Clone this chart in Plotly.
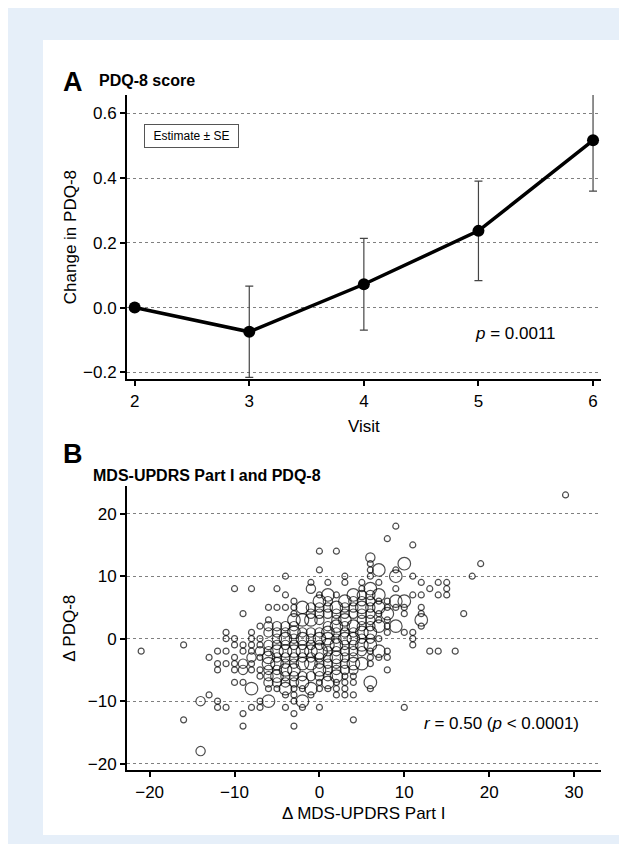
import plotly.graph_objects as go

# ---------------- Panel A data ----------------
visits = [2, 3, 4, 5, 6]
pdq_estimate = [0.0, -0.075, 0.072, 0.237, 0.517]
pdq_se = [0.0, 0.141, 0.142, 0.154, 0.157]
visit_ticks = [2, 3, 4, 5, 6]
a_yticks = [-0.2, 0.0, 0.2, 0.4, 0.6]

# ---------------- Panel B data ----------------
# change in MDS-UPDRS Part I (x columns), change in PDQ-8 per column, number of patients per point
updrs_change = [-21, -16, -14, -13, -12, -11, -10, -9, -8, -7, -6, -5, -4, -3, -2, -1,
                0, 1, 2, 3, 4, 5, 6, 7, 8, 9, 10, 11, 12, 13, 14, 15, 16, 17, 18, 19, 29]
pdq_change = [
    [-2],
    [-1, -13],
    [-10, -18],
    [-3, -9],
    [-2, -4, -5, -10, -11],
    [1, 0, -2, -4, -11],
    [8, 0, -1, -3, -4, -5, -7],
    [4, -1, -2, -4, -5, -7, -12, -14],
    [8, 1, 0, -1, -2, -3, -4, -5, -8, -11],
    [2, 0, -1, -2, -3, -5, -6, -10, -11],
    [5, 3, 2, 1, -1, -2, -3, -4, -5, -6, -7, -8, -10],
    [8, 5, 2, 1, 0, -1, -2, -3, -4, -5, -6, -7, -8],
    [10, 7, 5, 2, 1, 0, -1, -2, -3, -4, -5, -6, -7, -8, -9, -11],
    [6, 5, 4, 3, 2, 1, 0, -1, -2, -3, -4, -5, -6, -7, -8, -9, -10, -12, -14],
    [5, 3, 1, 0, -1, -2, -3, -4, -6, -7, -8, -10, -11],
    [9, 8, 5, 4, 3, 1, 0, -1, -2, -3, -4, -6, -8, -9],
    [14, 11, 7, 6, 5, 4, 3, 1, 0, -1, -2, -3, -4, -5, -6, -7, -8, -11],
    [9, 7, 6, 5, 4, 2, 1, 0, -1, -2, -3, -4, -5, -6, -7, -8],
    [14, 7, 5, 4, 3, 2, 1, 0, -1, -2, -3, -4, -5, -6, -7, -8, -9],
    [10, 9, 6, 5, 4, 3, 2, 1, 0, -1, -2, -3, -4, -5, -6, -7, -8, -9],
    [7, 6, 5, 4, 2, 1, 0, -1, -2, -3, -4, -5, -6, -7, -9, -13],
    [9, 8, 7, 6, 5, 4, 3, 2, 1, 0, -1, -2, -4],
    [13, 12, 11, 10, 8, 7, 6, 5, 4, 3, 2, 1, 0, -1, -2, -3, -4, -7, -8],
    [11, 9, 7, 6, 5, 4, 3, 2, 0, -2, -3],
    [16, 6, 5, 4, 3, 2, 1, -2, -3, -5],
    [18, 11, 10, 8, 6, 5, 2],
    [12, 6, 5, 4, 1, -11],
    [15, 10, 7, 1, 0, -1],
    [9, 7, 5, 4, 3, 2],
    [8, -2],
    [9, 7, -2],
    [9, 8, 7],
    [-2],
    [4],
    [10],
    [12],
    [23],
]
n_patients = [
    [1],
    [1, 1],
    [2, 2],
    [1, 1],
    [1, 1, 1, 1, 1],
    [1, 1, 1, 1, 1],
    [1, 1, 1, 1, 1, 1, 1],
    [1, 1, 1, 2, 2, 1, 1, 1],
    [1, 1, 1, 1, 1, 2, 1, 1, 3, 1],
    [1, 1, 1, 2, 1, 1, 1, 1, 1],
    [1, 1, 2, 2, 2, 2, 3, 3, 2, 2, 2, 1, 3],
    [1, 1, 2, 2, 2, 2, 3, 2, 3, 2, 3, 2, 1],
    [1, 1, 1, 2, 2, 3, 2, 3, 2, 2, 3, 2, 2, 3, 1, 1],
    [1, 1, 1, 3, 2, 3, 2, 2, 3, 2, 2, 3, 2, 2, 1, 1, 1, 1, 1],
    [3, 3, 2, 3, 2, 3, 2, 3, 2, 3, 1, 3, 1],
    [1, 2, 2, 2, 3, 2, 2, 2, 3, 2, 3, 2, 3, 1],
    [1, 1, 1, 3, 2, 2, 2, 2, 3, 2, 4, 2, 2, 3, 2, 1, 1, 1],
    [1, 3, 2, 2, 2, 2, 3, 3, 3, 2, 2, 2, 2, 2, 3, 1],
    [1, 1, 3, 2, 2, 3, 2, 2, 3, 2, 3, 2, 2, 3, 1, 1, 1],
    [1, 1, 3, 2, 2, 3, 2, 2, 3, 2, 2, 2, 2, 2, 1, 1, 1, 1],
    [3, 2, 2, 2, 3, 2, 3, 2, 2, 2, 3, 2, 1, 1, 1, 1],
    [1, 1, 2, 2, 3, 2, 2, 2, 3, 2, 3, 2, 3],
    [2, 1, 1, 1, 3, 2, 2, 2, 2, 2, 2, 3, 2, 3, 1, 1, 1, 3, 1],
    [3, 1, 3, 1, 3, 1, 1, 3, 1, 3, 1],
    [1, 1, 1, 3, 1, 1, 1, 1, 1, 1],
    [1, 1, 3, 1, 3, 1, 3],
    [3, 3, 1, 1, 1, 1],
    [1, 1, 1, 1, 1, 1],
    [1, 1, 1, 1, 3, 1],
    [1, 1],
    [1, 1, 1],
    [1, 1, 1],
    [1],
    [1],
    [1],
    [1],
    [1],
]
b_xticks = [-20, -10, 0, 10, 20, 30]
b_yticks = [-20, -10, 0, 10, 20]

# flatten
bx, by, bn = [], [], []
for xv, ys, ns in zip(updrs_change, pdq_change, n_patients):
    for yv, nv in zip(ys, ns):
        bx.append(xv)
        by.append(yv)
        bn.append(nv)
bsize = [2.7 + 3.3 * n for n in bn]

W, H = 627, 844
FONT = "Liberation Sans, Arial, Helvetica, sans-serif"


def px(x):
    return x / W


def py(y):
    return 1 - y / H


fig = go.Figure()

fig.add_trace(go.Scatter(
    x=visits, y=pdq_estimate, mode="lines+markers",
    line=dict(color="black", width=3.5),
    marker=dict(color="black", size=12),
    error_y=dict(type="data", array=pdq_se, visible=True, color="#444444",
                 thickness=1.2, width=4),
    xaxis="x", yaxis="y", showlegend=False,
))

fig.add_trace(go.Scatter(
    x=bx, y=by, mode="markers",
    marker=dict(symbol="circle-open", color="black", size=bsize,
                line=dict(width=1.2, color="black")),
    xaxis="x2", yaxis="y2", showlegend=False,
))

axis_common = dict(
    showline=True, linecolor="black", linewidth=2,
    ticks="outside", ticklen=5, tickwidth=2, tickcolor="black",
    zeroline=False, tickfont=dict(family=FONT, size=17, color="black"),
)
grid = dict(showgrid=True, gridcolor="#808080", gridwidth=1, griddash="dot")

fig.update_layout(
    width=W, height=H,
    margin=dict(l=0, r=0, t=0, b=0),
    paper_bgcolor="#e6eff9",
    plot_bgcolor="white",
    font=dict(family=FONT, color="black"),
    xaxis=dict(domain=[px(119), px(592.6)], anchor="y", range=[1.933, 6.066],
               tickvals=visit_ticks, showgrid=False, **axis_common),
    yaxis=dict(domain=[py(372.7), py(87.3)], anchor="x", range=[-0.222, 0.657],
               tickvals=a_yticks, tickformat=".1f", **grid, **axis_common),
    xaxis2=dict(domain=[px(119), px(592.6)], anchor="y2", range=[-22.67, 33.13],
                tickvals=b_xticks, showgrid=False, **axis_common),
    yaxis2=dict(domain=[py(765), py(479.3)], anchor="x2", range=[-21.07, 24.5],
                tickvals=b_yticks, **grid, **axis_common),
    shapes=[dict(type="rect", xref="paper", yref="paper",
                 x0=px(35), x1=px(611), y0=py(830), y1=py(32),
                 fillcolor="white", line=dict(width=0), layer="below")],
)

ann = []


def add_text(text, x, y, size, xanchor="center", yanchor="middle", angle=0, **kw):
    ann.append(dict(text=text, x=px(x), y=py(y), xref="paper", yref="paper",
                    showarrow=False, xanchor=xanchor, yanchor=yanchor,
                    textangle=angle, font=dict(family=FONT, size=size, color="black"), **kw))


add_text("<b>A</b>", 53, 74, 27, xanchor="left")
add_text("<b>PDQ-8 score</b>", 89, 73, 16, xanchor="left")
add_text("Estimate ± SE", 183.5, 128.5, 12, bordercolor="#555555", borderwidth=1,
         width=91, height=20, bgcolor="white")
add_text("<i>p</i> = 0.0011", 507, 326.7, 17)
add_text("Change in PDQ-8", 62, 230, 17, angle=-90)
add_text("Visit", 355.8, 420, 17)

add_text("<b>B</b>", 53, 448, 27, xanchor="left")
add_text("<b>MDS-UPDRS Part I and PDQ-8</b>", 83, 469, 16, xanchor="left")
add_text("Δ PDQ-8", 62, 622, 17, angle=-90)
add_text("Δ MDS-UPDRS Part I", 355.8, 808, 17)
add_text("<i>r</i> = 0.50 (<i>p</i> &lt; 0.0001)", 493.7, 718, 17)

fig.update_layout(annotations=ann)

fig.write_html("out.html")
